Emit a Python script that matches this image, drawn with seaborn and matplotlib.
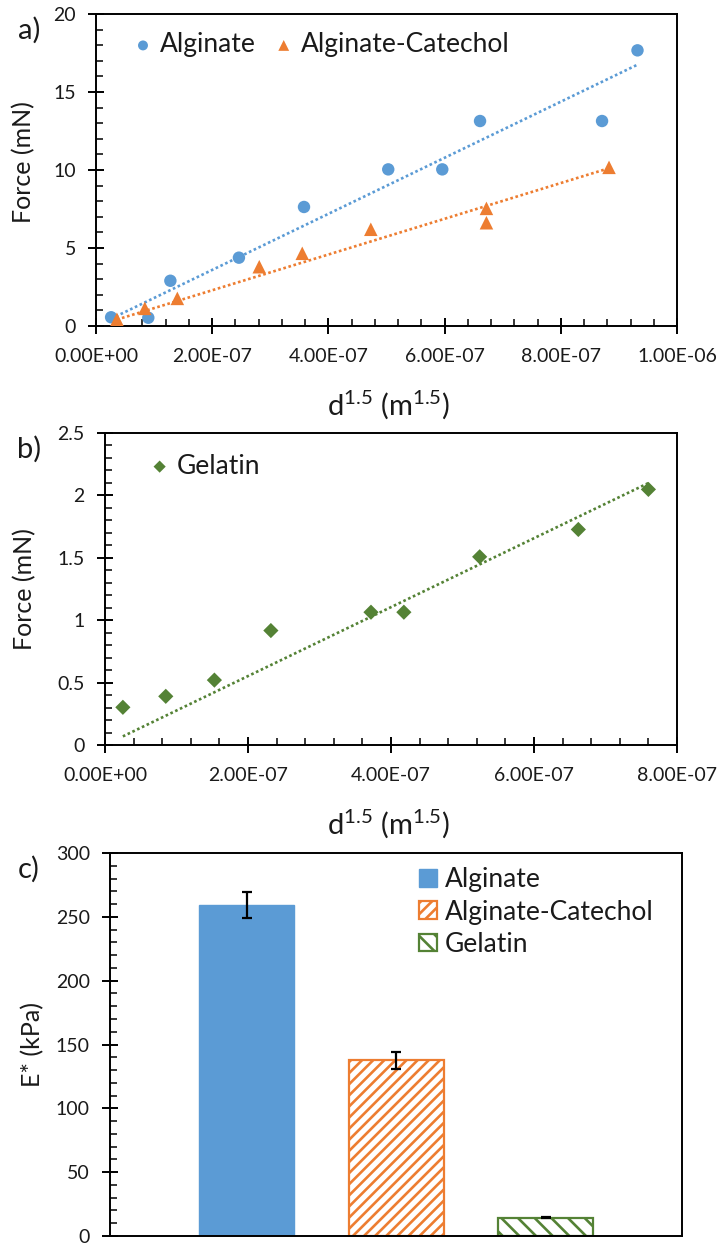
import numpy as np
import pandas as pd
import seaborn as sns
import matplotlib.pyplot as plt
import matplotlib.patches as mpatches
from matplotlib.ticker import MultipleLocator, FuncFormatter

# ---------------- data ----------------
alg_x = [2.6e-8, 9.0e-8, 1.28e-7, 2.46e-7, 3.58e-7, 5.03e-7, 5.96e-7, 6.61e-7, 8.71e-7, 9.32e-7]
alg_y = [0.56, 0.53, 2.9, 4.38, 7.63, 10.04, 10.04, 13.14, 13.14, 17.67]

cat_x = [3.6e-8, 8.4e-8, 1.40e-7, 2.81e-7, 3.55e-7, 4.73e-7, 6.72e-7, 6.72e-7, 8.83e-7]
cat_y = [0.43, 1.13, 1.77, 3.80, 4.66, 6.20, 7.54, 6.62, 10.17]

gel_x = [2.5e-8, 8.5e-8, 1.53e-7, 2.32e-7, 3.72e-7, 4.18e-7, 5.24e-7, 6.62e-7, 7.60e-7]
gel_y = [0.302, 0.39, 0.52, 0.917, 1.064, 1.064, 1.508, 1.727, 2.048]

materials = ["Alginate", "Alginate-Catechol", "Gelatin"]
e_mod = [259, 137.7, 14.3]
e_err = [10.3, 6.5, 0.5]

# ---------------- style ----------------
sns.set_style("ticks")
plt.rcParams['font.family'] = ['Lato', 'DejaVu Sans']
plt.rcParams['mathtext.fontset'] = 'custom'
plt.rcParams['mathtext.rm'] = 'Lato'
plt.rcParams['mathtext.it'] = 'Lato:italic'
plt.rcParams['mathtext.bf'] = 'Lato:bold'
plt.rcParams['hatch.linewidth'] = 1.9

BLUE = "#5B9BD5"
ORANGE = "#ED7D31"
GREEN = "#548235"
TXT = "#1a1a1a"
W, H = 725, 1247

fig = plt.figure(figsize=(W / 100, H / 100), dpi=100)


def add_ax(l, r, t, b):
    return fig.add_axes([l / W, 1 - b / H, (r - l) / W, (b - t) / H])


def style_axes(ax, ymaj, ymin, xmaj=None, xmin=None):
    for s in ax.spines.values():
        s.set_visible(True)
        s.set_color("black")
        s.set_linewidth(1.4)
    ax.yaxis.set_major_locator(MultipleLocator(ymaj))
    ax.yaxis.set_minor_locator(MultipleLocator(ymin))
    ax.yaxis.set_major_formatter(FuncFormatter(lambda v, p: f"{v:g}"))
    if xmaj is not None:
        ax.xaxis.set_major_locator(MultipleLocator(xmaj))
        ax.xaxis.set_minor_locator(MultipleLocator(xmin))
        ax.xaxis.set_major_formatter(FuncFormatter(lambda v, p: f"{v:.2E}"))
    ax.tick_params(which='major', direction='inout', length=11, width=1.4,
                   labelsize=14, colors='black', labelcolor=TXT)
    ax.tick_params(axis='x', which='major', pad=10)
    ax.tick_params(axis='y', which='major', pad=9)
    ax.tick_params(which='minor', direction='in', length=5, width=1.1, colors='black')
    ax.tick_params(top=False, right=False, which='both')


def origin_fit(xs, ys):
    xs = np.asarray(xs)
    ys = np.asarray(ys)
    slope = np.sum(xs * ys) / np.sum(xs * xs)
    xr = np.array([xs.min(), xs.max()])
    return xr, slope * xr


xlabel_txt = r"d$^{1.5}$ (m$^{1.5}$)"
dot = (0, (1, 1.0))
LW = 1.9

# ---------------- panel a ----------------
ax1 = add_ax(96, 677, 14, 326)
for xs, ys, c in [(alg_x, alg_y, BLUE), (cat_x, cat_y, ORANGE)]:
    fx, fy = origin_fit(xs, ys)
    sns.lineplot(x=fx, y=fy, color=c, linestyle=dot, linewidth=LW, ax=ax1, legend=False)
sns.scatterplot(x=alg_x, y=alg_y, color=BLUE, marker='o', s=80, edgecolor='none',
                ax=ax1, label="Alginate", zorder=3)
sns.scatterplot(x=cat_x, y=cat_y, color=ORANGE, marker='^', s=95, edgecolor='none',
                ax=ax1, label="Alginate-Catechol", zorder=3)
ax1.set_xlim(0, 1e-6)
ax1.set_ylim(0, 20)
style_axes(ax1, 5, 1, 2e-7, 4e-8)
ax1.set_ylabel("Force (mN)", fontsize=18, color=TXT)
ax1.set_xlabel(xlabel_txt, fontsize=21, color=TXT)
ax1.yaxis.set_label_coords(-0.105, 0.525)
ax1.xaxis.set_label_coords(0.503, -0.2)
ax1.legend(loc='upper left', bbox_to_anchor=(0.04, 0.975), ncol=2, frameon=False,
           fontsize=19, handletextpad=0.15, columnspacing=0.55, markerscale=0.8,
           handlelength=1.0, borderaxespad=0.0, labelcolor=TXT)

# ---------------- panel b ----------------
ax2 = add_ax(105, 677, 433, 745)
fx, fy = origin_fit(gel_x, gel_y)
sns.lineplot(x=fx, y=fy, color=GREEN, linestyle=dot, linewidth=LW, ax=ax2, legend=False)
sns.scatterplot(x=gel_x, y=gel_y, color=GREEN, marker='D', s=60, edgecolor='none',
                ax=ax2, label="Gelatin", zorder=3)
ax2.set_xlim(0, 8e-7)
ax2.set_ylim(0, 2.5)
style_axes(ax2, 0.5, 0.1, 2e-7, 4e-8)
ax2.set_ylabel("Force (mN)", fontsize=18, color=TXT)
ax2.set_xlabel(xlabel_txt, fontsize=21, color=TXT)
ax2.yaxis.set_label_coords(-0.12, 0.5)
ax2.xaxis.set_label_coords(0.495, -0.2)
ax2.legend(loc='upper left', bbox_to_anchor=(0.054, 0.968), frameon=False,
           fontsize=19, handletextpad=0.15, markerscale=0.8,
           handlelength=1.0, borderaxespad=0.0, labelcolor=TXT)

# ---------------- panel c ----------------
ax3 = add_ax(110, 682, 853, 1236)
df = pd.DataFrame({"Material": materials, "E": e_mod})
sns.barplot(data=df, x="Material", y="E", hue="Material", palette=[BLUE, ORANGE, GREEN],
            width=0.636, errorbar=None, legend=False, ax=ax3, saturation=1)
bars = list(ax3.patches)
bars[0].set_facecolor(BLUE)
bars[0].set_edgecolor(BLUE)
bars[1].set_facecolor('white')
bars[1].set_edgecolor(ORANGE)
bars[1].set_hatch('///')
bars[1].set_linewidth(1.6)
bars[2].set_facecolor('white')
bars[2].set_edgecolor(GREEN)
bars[2].set_hatch('\\\\')
bars[2].set_linewidth(1.6)
ax3.errorbar(x=range(len(materials)), y=e_mod, yerr=e_err, fmt='none',
             ecolor='black', elinewidth=1.6, capsize=3.4, capthick=1.6, zorder=4)
ax3.set_xlim(-0.916, 2.91)
ax3.set_ylim(0, 300)
style_axes(ax3, 50, 10)
ax3.set_xticks([])
ax3.set_xlabel("")
ax3.set_ylabel("E* (kPa)", fontsize=18, color=TXT)
ax3.yaxis.set_label_coords(-0.114, 0.5)
handles = [mpatches.Patch(facecolor=BLUE, edgecolor=BLUE),
           mpatches.Patch(facecolor='white', edgecolor=ORANGE, hatch='///', linewidth=1.6),
           mpatches.Patch(facecolor='white', edgecolor=GREEN, hatch='\\\\', linewidth=1.6)]
ax3.legend(handles, materials, loc='upper left', bbox_to_anchor=(0.521, 0.99), frameon=False,
           fontsize=19, handlelength=0.7, handleheight=0.65, handletextpad=0.3,
           labelspacing=0.27, borderaxespad=0.0, labelcolor=TXT)

# panel letters
for lbl, y in [("a)", 30), ("b)", 449), ("c)", 869)]:
    fig.text(29 / W, 1 - y / H, lbl, fontsize=21, ha='center', va='center', color=TXT)

fig.savefig("out.png", dpi=100)
